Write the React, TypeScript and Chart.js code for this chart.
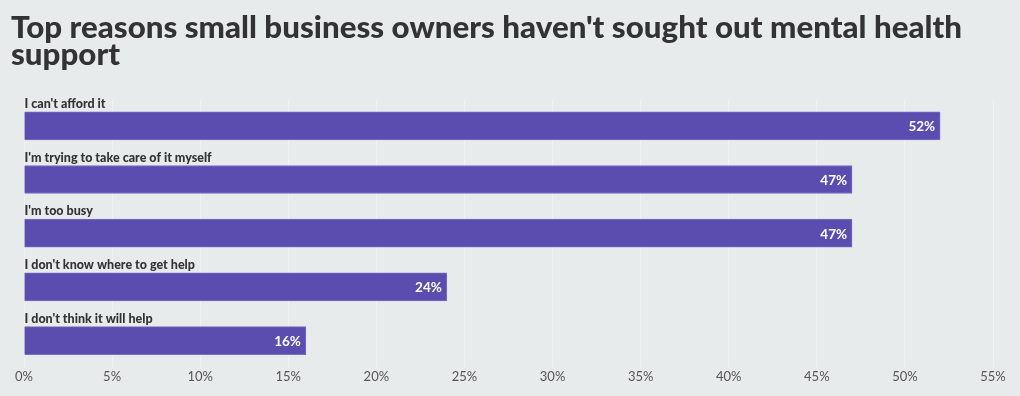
import React, { useEffect, useRef } from "react";
import { Chart, registerables } from "chart.js";

Chart.register(...registerables);

const TITLE_LINES = [
  "Top reasons small business owners haven't sought out mental health",
  "support",
];
const CATEGORIES = [
  "I can't afford it",
  "I'm trying to take care of it myself",
  "I'm too busy",
  "I don't know where to get help",
  "I don't think it will help",
];
const VALUES = [52, 47, 47, 24, 16];
const X_MAX = 55;
const X_STEP = 5;

const BG = "#e8ebeb";
const BAR_COLOR = "#5b4caf";
const BAR_BORDER = "#7a6ec4";
const TEXT_DARK = "#333333";
const FONT = "Lato, 'Open Sans', sans-serif";

const W = 1020;
const H = 396;

const decorPlugin = {
  id: "decor",
  beforeDraw(chart: any) {
    const ctx = chart.ctx;
    ctx.save();
    ctx.fillStyle = BG;
    ctx.fillRect(0, 0, chart.width, chart.height);
    ctx.fillStyle = TEXT_DARK;
    ctx.font = `900 30px ${FONT}`;
    ctx.textAlign = "left";
    ctx.textBaseline = "alphabetic";
    const w = ctx.measureText(TITLE_LINES[0]).width;
    const sx = 951 / w;
    ctx.translate(11, 0);
    ctx.scale(sx, 1);
    ctx.fillText(TITLE_LINES[0], 0, 38);
    ctx.fillText(TITLE_LINES[1], 0, 65);
    ctx.restore();
  },
  afterDatasetsDraw(chart: any) {
    const ctx = chart.ctx;
    const meta = chart.getDatasetMeta(0);
    meta.data.forEach((bar: any, i: number) => {
      const p = bar.getProps(["x", "y", "base", "height"], true);
      ctx.save();
      ctx.font = `900 12.5px ${FONT}`;
      ctx.fillStyle = TEXT_DARK;
      ctx.textAlign = "left";
      ctx.textBaseline = "alphabetic";
      ctx.fillText(CATEGORIES[i], p.base, p.y - p.height / 2 - 4);
      ctx.font = `bold 13.5px ${FONT}`;
      ctx.fillStyle = "#ffffff";
      ctx.textAlign = "right";
      ctx.textBaseline = "middle";
      ctx.fillText(`${VALUES[i]}%`, p.x - 5, p.y + 1);
      ctx.restore();
    });
  },
};

export default function App() {
  const ref = useRef<HTMLCanvasElement>(null);
  useEffect(() => {
    if (!ref.current) return;
    const chart = new Chart(ref.current, {
      type: "bar",
      data: {
        labels: CATEGORIES,
        datasets: [
          {
            data: VALUES,
            backgroundColor: BAR_COLOR,
            borderColor: BAR_BORDER,
            borderWidth: 1,
            barThickness: 28,
          },
        ],
      },
      options: {
        indexAxis: "y",
        animation: false,
        responsive: false,
        layout: { padding: { left: 24, right: 27, top: 99, bottom: 9 } },
        plugins: {
          legend: { display: false },
          tooltip: { enabled: false },
          title: { display: false },
        },
        scales: {
          y: { display: false },
          x: {
            min: 0,
            max: X_MAX,
            border: { display: false },
            grid: {
              color: "rgba(255,255,255,0.35)",
              drawTicks: false,
            },
            ticks: {
              stepSize: X_STEP,
              padding: 2,
              color: "#555555",
              font: { family: FONT, size: 13 },
              callback: (v: any) => `${v}%`,
            },
          },
        },
      },
      plugins: [decorPlugin],
    });
    return () => chart.destroy();
  }, []);
  return (
    <div style={{ position: "absolute", left: 0, top: 0, width: W, height: H, background: BG }}>
      <canvas ref={ref} width={W} height={H} />
    </div>
  );
}
